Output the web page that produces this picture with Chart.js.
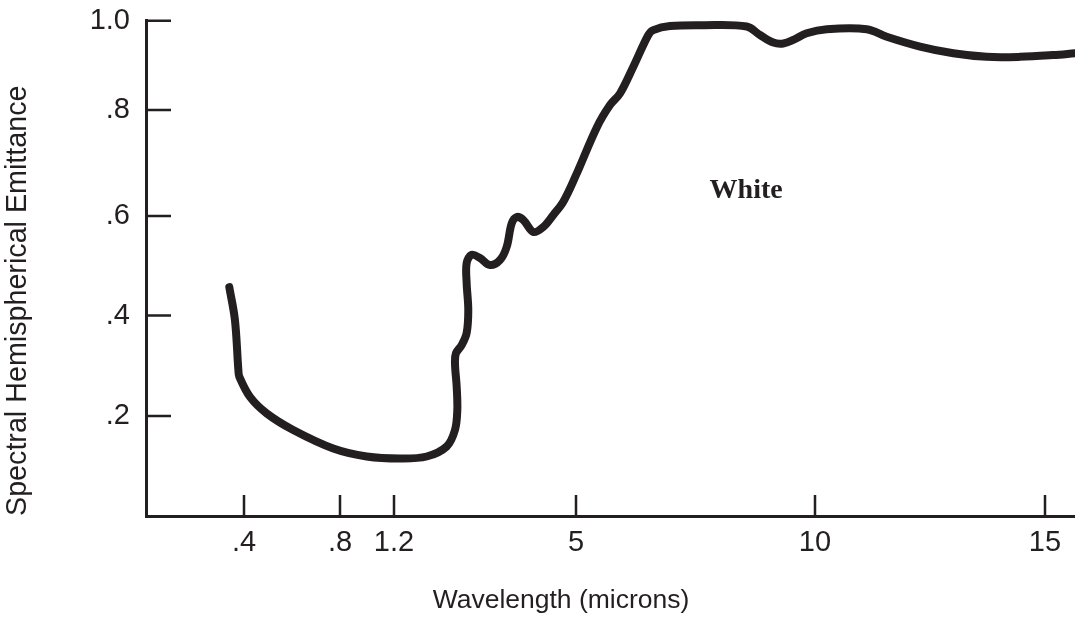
<!DOCTYPE html>
<html>
<head>
<meta charset="utf-8">
<script src="https://cdn.jsdelivr.net/npm/chart.js@4.4.1/dist/chart.umd.min.js"></script>
<style>
  html, body { margin: 0; padding: 0; background: #ffffff; }
  #c { display: block; }
</style>
</head>
<body>
<canvas id="c" width="1075" height="617"></canvas>
<script>
// ---- Data ----
const wavelength = [0.340, 0.363, 0.377, 0.381, 0.425, 0.495, 0.605, 0.772, 0.998, 1.325,
  1.883, 2.30, 2.473, 2.522, 2.509, 2.473, 2.494, 2.613, 2.717, 2.751,
  2.717, 2.717, 2.822, 2.995, 3.204, 3.413, 3.553, 3.657, 3.762, 3.90,
  4.108, 4.317, 4.526, 4.735, 5.0, 5.44, 5.711, 5.92, 6.199, 6.513,
  6.617, 6.967, 7.663, 8.571, 8.849, 9.128, 9.337, 9.546, 9.826, 10.254,
  11.124, 11.559, 12.283, 13.007, 13.733, 14.457, 15.18, 15.65];
const emittance = [0.457, 0.391, 0.2915, 0.278, 0.238, 0.205, 0.172, 0.135, 0.119, 0.115,
  0.119, 0.139, 0.172, 0.212, 0.258, 0.305, 0.325, 0.341, 0.365, 0.411,
  0.465, 0.5055, 0.522, 0.5156, 0.5015, 0.5115, 0.538, 0.585, 0.598, 0.592,
  0.568, 0.578, 0.602, 0.627, 0.677, 0.768, 0.811, 0.837, 0.897, 0.968,
  0.979, 0.988, 0.990, 0.987, 0.968, 0.951, 0.949, 0.957, 0.972, 0.981,
  0.981, 0.964, 0.942, 0.927, 0.919, 0.919, 0.923, 0.927];
const xTickValues = [0.4, 0.8, 1.2, 5, 10, 15];
const xTickLabels = ['.4', '.8', '1.2', '5', '10', '15'];
const yTickValues = [0.2, 0.4, 0.6, 0.8, 1.0];
const yTickLabels = ['.2', '.4', '.6', '.8', '1.0'];
const seriesLabel = 'White';
const labelAt = { x: 8.56, y: 0.634 };
const xTitle = 'Wavelength (microns)';
const yTitle = 'Spectral Hemispherical Emittance';

const INK = '#231f20';

// ---- A piecewise-linear scale (the original axes are hand-drawn, non-uniform) ----
class PiecewiseScale extends Chart.LinearScale {
  _toDecimal(v) {
    const { values, positions } = this.options.stops;
    let i = 0;
    while (i < values.length - 2 && v > values[i + 1]) i++;
    const t = (v - values[i]) / (values[i + 1] - values[i]);
    return positions[i] + t * (positions[i + 1] - positions[i]);
  }
  _fromDecimal(d) {
    const { values, positions } = this.options.stops;
    let i = 0;
    while (i < positions.length - 2 && d > positions[i + 1]) i++;
    const t = (d - positions[i]) / (positions[i + 1] - positions[i]);
    return values[i] + t * (values[i + 1] - values[i]);
  }
  getPixelForValue(value) {
    return this.getPixelForDecimal(this._toDecimal(value));
  }
  getValueForPixel(pixel) {
    return this._fromDecimal(this.getDecimalForPixel(pixel));
  }
}
PiecewiseScale.id = 'piecewise';
PiecewiseScale.defaults = Chart.LinearScale.defaults;
Chart.register(PiecewiseScale);

// ---- Inward tick marks and free text ----
const decor = {
  id: 'decor',
  afterDraw(chart) {
    const { ctx, chartArea, scales: { x, y } } = chart;
    ctx.save();
    ctx.strokeStyle = INK;
    ctx.lineWidth = 2.5;
    ctx.lineCap = 'butt';
    ctx.beginPath();
    y.ticks.forEach(t => {
      const py = y.getPixelForValue(t.value);
      ctx.moveTo(chartArea.left, py);
      ctx.lineTo(chartArea.left + 25, py);
    });
    x.ticks.forEach(t => {
      const px = x.getPixelForValue(t.value);
      ctx.moveTo(px, chartArea.bottom);
      ctx.lineTo(px, chartArea.bottom - 21);
    });
    ctx.stroke();

    ctx.fillStyle = INK;
    ctx.textAlign = 'center';
    ctx.textBaseline = 'alphabetic';
    ctx.font = 'bold 28px "Liberation Serif", "DejaVu Serif", serif';
    ctx.fillText(seriesLabel, x.getPixelForValue(labelAt.x), y.getPixelForValue(labelAt.y));

    ctx.font = '26.5px "Liberation Sans", Arial, sans-serif';
    ctx.fillText(xTitle, 561, 608);
    ctx.restore();
  }
};

new Chart(document.getElementById('c'), {
  type: 'line',
  data: {
    datasets: [{
      label: seriesLabel,
      data: wavelength.map((w, i) => ({ x: w, y: emittance[i] })),
      borderColor: INK,
      borderWidth: 8,
      borderCapStyle: 'round',
      borderJoinStyle: 'round',
      pointRadius: 0,
      tension: 0.35,
      fill: false,
      clip: false
    }]
  },
  options: {
    responsive: false,
    animation: false,
    devicePixelRatio: 1,
    layout: { padding: { top: 20.7, right: 0, bottom: 0, left: 0 } },
    plugins: { legend: { display: false }, tooltip: { enabled: false } },
    scales: {
      x: {
        type: 'piecewise',
        min: 0,
        max: 15.652,
        stops: {
          values: [0, 0.4, 0.8, 1.2, 5, 10, 15, 15.652],
          positions: [0, 0.10549, 0.20883, 0.26695, 0.46286, 0.72013, 0.96771, 1]
        },
        afterBuildTicks: s => { s.ticks = xTickValues.map(v => ({ value: v })); },
        afterFit: s => { s.height = 101; s.paddingLeft = 0; s.paddingRight = 0; },
        grid: { display: false, drawTicks: false },
        border: { display: true, color: INK, width: 3 },
        ticks: {
          autoSkip: false,
          maxRotation: 0,
          padding: 10,
          color: INK,
          font: { family: '"Liberation Sans", Arial, sans-serif', size: 29 },
          callback: (v, i) => xTickLabels[i]
        }
      },
      y: {
        type: 'piecewise',
        min: 0,
        max: 1,
        stops: {
          values: [0, 0.2, 0.4, 0.6, 0.8, 1.0],
          positions: [0, 0.2019, 0.4048, 0.6057, 0.8197, 1]
        },
        afterBuildTicks: s => { s.ticks = yTickValues.map(v => ({ value: v })); },
        afterFit: s => { s.width = 146; s.paddingTop = 0; s.paddingBottom = 0; },
        grid: { display: false, drawTicks: false },
        border: { display: true, color: INK, width: 3 },
        ticks: {
          autoSkip: false,
          padding: 16,
          color: INK,
          font: { family: '"Liberation Sans", Arial, sans-serif', size: 29 },
          callback: (v, i) => yTickLabels[i]
        },
        title: {
          display: true,
          text: yTitle,
          align: 'start',
          color: INK,
          padding: { top: 1, bottom: 0 },
          font: { family: '"Liberation Sans", Arial, sans-serif', size: 28.7 }
        }
      }
    }
  },
  plugins: [decor]
});
</script>
</body>
</html>
